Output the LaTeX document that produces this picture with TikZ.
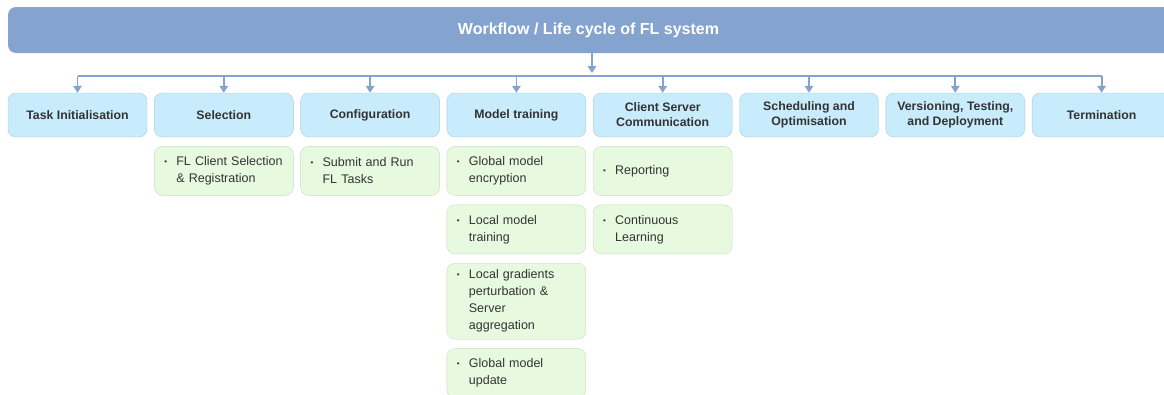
\documentclass[tikz,border=0pt]{standalone}
\usepackage{fontspec}
\setmainfont{Liberation Sans}
\usetikzlibrary{positioning}
\usetikzlibrary{arrows.meta}
\definecolor{barblue}{HTML}{85A3CF}
\definecolor{headfill}{HTML}{C8ECFC}
\definecolor{headline}{HTML}{A8CCE0}
\definecolor{subfill}{HTML}{E7FADF}
\definecolor{subline}{HTML}{C5DDBE}
\definecolor{txt}{HTML}{333333}
\newcommand{\itm}[1]{\makebox[12pt][l]{\raisebox{1pt}{\fontsize{8}{8}\selectfont\textbullet}}\parbox[t]{107pt}{\raggedright #1}}

\begin{document}
\begin{tikzpicture}[x=1pt,y=-1pt,node distance=146.3pt,
  head/.style={draw=headline,fill=headfill,rounded corners=8pt,minimum width=139pt,minimum height=44pt,align=center,text=txt,font=\fontsize{12.3}{15}\selectfont\bfseries,inner sep=2pt},
  item/.style={draw=subline,fill=subfill,rounded corners=8pt,text width=119pt,minimum height=49pt,inner xsep=10pt,align=left,text=txt,font=\fontsize{12.5}{17}\selectfont},
  conn/.style={draw=barblue,line width=1.8pt},
  flow/.style={conn,-{Triangle[width=8.5pt,length=7pt]}}]
  \useasboundingbox (0,0) rectangle (1164,394);
  \clip (0,0) rectangle (1164,394);

  \node[fill=barblue,rounded corners=8pt,minimum width=1168pt,minimum height=46pt,text=white,font=\fontsize{16}{16}\selectfont\bfseries] (wf) at (592,30) {\hspace*{-7pt}Workflow / Life cycle of FL system};

  \node[head] (init) at (77.5,115) {Task Initialisation};
  \node[head,right of=init] (sel) {Selection};
  \node[head,right of=sel] (conf) {Configuration};
  \node[head,right of=conf] (train) {Model training};
  \node[head,right of=train] (comm) {Client Server\\Communication};
  \node[head,right of=comm] (sched) {Scheduling and\\Optimisation};
  \node[head,right of=sched] (vers) {Versioning, Testing,\\and Deployment};
  \node[head,right of=vers] (term) {Termination};

  \node[item,below=9pt of sel] (sel1) {\itm{FL Client Selection\\\& Registration}};
  \node[item,below=9pt of conf] (conf1) {\itm{Submit and Run\\FL Tasks}};

  \node[item,below=9pt of train] (train1) {\itm{Global model\\encryption}};
  \node[item,below=9pt of train1] (train2) {\itm{Local model\\training}};
  \node[item,below=9pt of train2,minimum height=76pt] (train3) {\itm{Local gradients\\perturbation \&\\Server\\aggregation}};
  \node[item,below=9pt of train3] (train4) {\itm{Global model\\update}};

  \node[item,below=9pt of comm] (comm1) {\itm{Reporting}};
  \node[item,below=9pt of comm1] (comm2) {\itm{Continuous\\Learning}};

  \coordinate (hub) at (592,76);
  \coordinate (hubtip) at (592,73);
  \draw[flow] (wf) -- (hubtip);
  \draw[conn] (init.north |- hub) -- (term.north |- hub);
  \foreach \n in {init,sel,conf,train,comm,sched,vers,term}
    \draw[flow] (\n.north |- hub) -- (\n);
\end{tikzpicture}
\end{document}
